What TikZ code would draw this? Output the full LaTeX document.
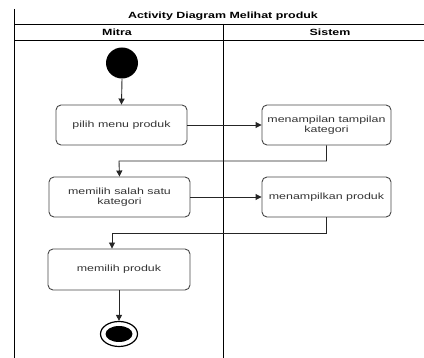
\documentclass[tikz,border=0pt]{standalone}
\usepackage{fontspec}
\newfontfamily\dfont[FakeStretch=1.38]{Liberation Sans}
\usetikzlibrary{arrows.meta,shapes.geometric}
\begin{document}
\begin{tikzpicture}[x=1pt,y=-1pt,
  act/.style={draw=black!72, line width=0.9pt, rounded corners=5pt,
    font=\dfont\fontsize{9}{10.3}\selectfont, text=black!80, align=center,
    inner sep=0pt, minimum height=40pt},
  flow/.style={draw=black!85, line width=0.9pt, -{Triangle[length=6pt,width=6pt]}},
  lane/.style={draw=black, line width=0.9pt},
  hdr/.style={font=\dfont\bfseries\fontsize{9}{10.3}\selectfont, text=black, inner sep=0pt}]
\useasboundingbox (0,0) rectangle (424,358);
% frame
\draw[lane] (14,9) -- (14,358);
\draw[lane] (14,24) -- (424,24);
\draw[lane] (14,40.5) -- (424,40.5);
\draw[lane] (223,24) -- (223,358);
\node[hdr] (title) at (223,16) {Activity Diagram Melihat produk};
\node[hdr] (mitra) at (117,32.5) {Mitra};
\node[hdr] (sistem) at (330,32.5) {Sistem};
% nodes
\node[ellipse, fill=black, minimum width=32pt, minimum height=31pt, inner sep=0pt] (start) at (122,63) {};
\node[act, minimum width=131pt] (b1) at (121.5,125) {pilih menu produk};
\node[act, minimum width=129pt] (b2) at (326.5,125) {menampilan tampilan\\kategori};
\node[act, minimum width=141pt] (b3) at (119.5,197) {memilih salah satu\\kategori};
\node[act, minimum width=129pt] (b4) at (326.5,197) {menampilkan produk};
\node[act, minimum width=142pt, minimum height=41pt] (b5) at (119,269.5) {memilih produk};
\node[ellipse, draw=black, line width=1.2pt, minimum width=37pt, minimum height=25pt, inner sep=0pt] (end) at (119,334) {};
\node[ellipse, fill=black, minimum width=27pt, minimum height=16pt, inner sep=0pt] (endin) at (119,334) {};
% connectors
\coordinate (k1) at (119,161);
\coordinate (k2) at (112,233);
\draw[flow] (start.south) -- (b1.north);
\draw[flow] (b1.east) -- (b2.west);
\draw[flow] (b2.south) |- (k1) -- (b3.north);
\draw[flow] (b3.east) -- (b4.west);
\draw[flow] (b4.south) |- (k2) -- (k2 |- b5.north);
\draw[flow] (b5.south) -- (end.north);
\end{tikzpicture}
\end{document}
